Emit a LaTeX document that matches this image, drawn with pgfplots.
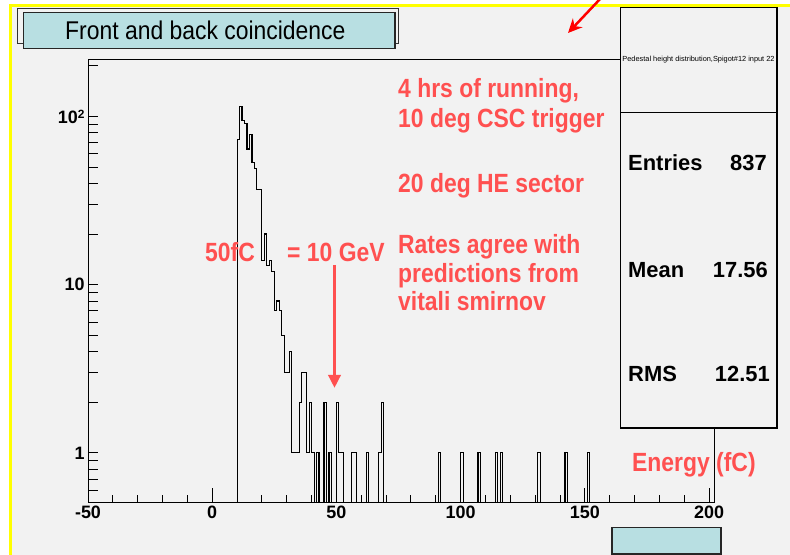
\documentclass[border=0pt]{standalone}
\usepackage{fontspec}
\setmainfont{Liberation Sans}
\usepackage{pgfplots}
\pgfplotsset{compat=1.18}
\usetikzlibrary{arrows.meta}
\definecolor{bg}{RGB}{242,242,242}
\definecolor{cyanbox}{RGB}{184,223,226}
\definecolor{annot}{RGB}{255,80,80}
\definecolor{ylw}{RGB}{255,255,0}
\begin{document}
\begin{tikzpicture}[x=1bp,y=1bp]
\useasboundingbox (0,0) rectangle (790,555);
\fill[white] (0,0) rectangle (790,555);
\fill[bg] (10.5,0) rectangle (790,549.7);
\draw[ylw, line width=2.5bp] (10.5,0) -- (10.5,549.7) -- (790,549.7);

\begin{axis}[at={(88bp,53bp)}, anchor=south west,
  width=626bp, height=442.5bp, scale only axis,
  xmin=-50, xmax=202, ymode=log, ymin=0.511, ymax=218,
  axis line style={line width=0.9bp}, tick style={black, line width=0.9bp},
  tick align=inside, tick pos=left,
  ytick=\empty,
  xtick={-50,0,50,100,150,200}, xticklabels={-50,0,50,100,150,200},
  minor x tick num=4, major tick length=14bp, minor tick length=7bp,
  xticklabel style={font=\fontsize{18}{18}\selectfont\bfseries}]
\addplot[const plot, black, line width=1.1bp] coordinates {
(-50,0.05) (10,73) (11,115) (12,95) (13,91) (14,64) (15,78) (16,53) (17,49)
(18,37) (19,37) (20,14) (21,20) (22,13) (23,14) (24,12) (25,7) (26,8) (27,7)
(28,5) (29,3) (30,3) (31,4) (32,1) (33,1) (34,1) (35,2) (36,3) (37,3) (38,1)
(39,2) (40,1) (41,0.05) (42,1) (43,0.05) (45,2) (46,0.05) (47,1) (48,0.05)
(50,2) (51,1) (52,1) (53,0.05) (56,1) (57,1) (58,0.05) (62,1) (63,0.05)
(67,1) (68,2) (69,0.05) (91,1) (92,0.05) (100,1) (101,0.05) (107,1) (108,0.05)
(114,1) (115,0.05) (116,1) (117,0.05) (131,1) (132,0.05) (142,1) (143,0.05)
(151,1) (152,0.05) (202,0.05)};
\end{axis}
\begin{axis}[at={(88bp,53bp)}, anchor=south west,
  width=626bp, height=442.5bp, scale only axis,
  xmin=-50, xmax=202, ymode=log, ymin=0.511, ymax=218,
  axis line style={line width=0.9bp}, tick style={black, line width=0.9bp},
  tick align=inside, tick pos=left,
  xtick=\empty,
  ytick={1,10,100},
  yticklabels={1,10,{10\raisebox{5bp}{\fontsize{12}{12}\selectfont 2}}},
  minor ytick={0.6,0.7,0.8,0.9,2,3,4,5,6,7,8,9,20,30,40,50,60,70,80,90,200},
  major tick length=10bp, minor tick length=10bp,
  yticklabel style={font=\fontsize{18}{18}\selectfont\bfseries}]
\addplot[draw=none, forget plot] coordinates {(0,1)};
\end{axis}

% title boxes
\filldraw[fill=bg, draw=black!80, line width=1.2bp] (17.3,511.7) rectangle (398.3,546.7);
\filldraw[fill=cyanbox, draw=black!85, line width=1.5bp] (23.3,506.7) rectangle (395,542.3);
\node[anchor=base west, inner sep=0, font=\fontsize{23}{23}\selectfont, yscale=1.12] at (65,515.7) {Front and back coincidence};
\filldraw[fill=cyanbox, draw=black!85, line width=1.5bp] (612,1) rectangle (721,27.5);

% stats box
\filldraw[fill=bg, draw=black, line width=1bp] (620,127) rectangle (777,547);
\draw[line width=2.2bp] (777,547) -- (777,127) -- (620,127);
\draw[line width=1bp] (620,442) -- (777,442);
\node[inner sep=0, font=\fontsize{7.4}{7.4}\selectfont] at (698.5,495) {Pedestal height distribution,Spigot\#12 input 22};
\begin{scope}[every node/.style={inner sep=0, font=\fontsize{22}{22}\selectfont\bfseries}]
\node[anchor=base west] at (628,384) {Entries};
\node[anchor=base east] at (767,384) {837};
\node[anchor=base west] at (628,277) {Mean};
\node[anchor=base east] at (768,277) {17.56};
\node[anchor=base west] at (628,173) {RMS};
\node[anchor=base east] at (770,173) {12.51};
\end{scope}

% annotations
\begin{scope}[every node/.style={anchor=base west, inner sep=0, text=annot, font=\fontsize{23}{23}\selectfont\bfseries, yscale=1.15}]
\node at (398,457) {4 hrs of running,};
\node at (398,427) {10 deg CSC trigger};
\node at (398,362) {20 deg HE sector};
\node at (398,301) {Rates agree with};
\node at (398,272) {predictions from};
\node at (398,244) {vitali smirnov};
\node at (205,293) {50fC};
\node at (287,293) {= 10 GeV};
\node at (632,83) {Energy (fC)};
\end{scope}
\draw[annot, line width=3.5bp, -{Triangle[length=13bp,width=12bp]}] (334.5,290) -- (334.5,167);
\draw[red, line width=2.5bp, -{Stealth[length=14bp,width=13bp]}] (601,557) -- (568,522);
\end{tikzpicture}
\end{document}
